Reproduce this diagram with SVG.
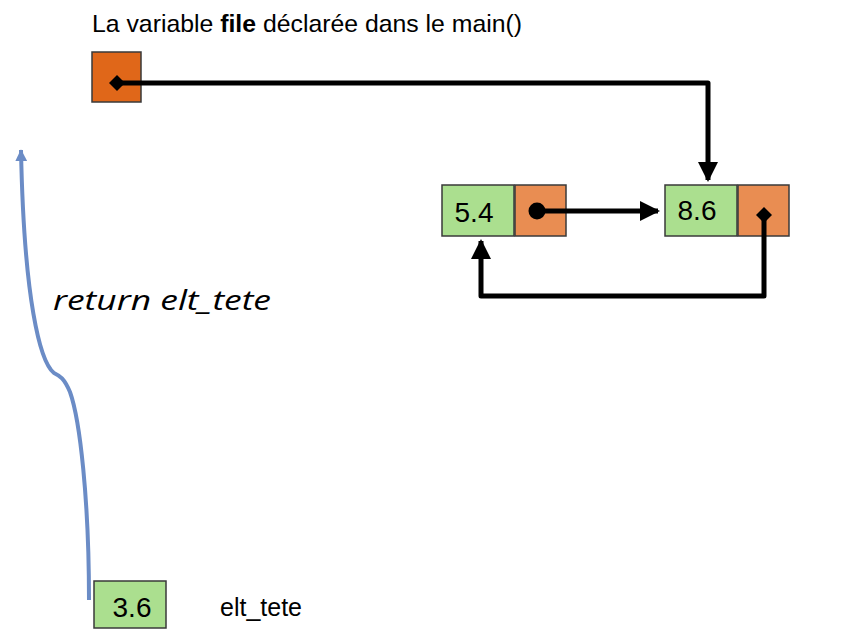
<svg xmlns="http://www.w3.org/2000/svg" width="868" height="643" viewBox="0 0 868 643">
<style>
.cell{stroke:#3a3a3a;stroke-width:1.5}
.g{fill:#abdf8f}
.o{fill:#e98d52}
.od{fill:#e06719}
.lbl{font-family:"Liberation Sans",Arial,sans-serif;fill:#000}
.num{font-size:28px;text-anchor:middle}
.ptr{fill:none;stroke:#000;stroke-width:5;stroke-linejoin:round}
</style>
<defs>
<marker id="ah" markerWidth="4" markerHeight="4" refX="3.6" refY="2" orient="auto" markerUnits="strokeWidth" viewBox="0 0 4 4">
<path d="M0,0 L4,2 L0,4 z" fill="#000"/>
</marker>
<marker id="bh" markerWidth="3" markerHeight="3" refX="2.8" refY="1.5" orient="auto" markerUnits="strokeWidth" viewBox="0 0 3 3">
<path d="M0,0 L3,1.5 L0,3 z" fill="#6b8cc6"/>
</marker>
</defs>
<g id="title">
<text class="lbl" x="92" y="32" font-size="24.8">La variable <tspan font-weight="bold">file</tspan> déclarée dans le main()</text>
</g>
<g id="file">
<rect class="cell od" x="92" y="52" width="49" height="50"/>
</g>
<g id="node1">
<rect class="cell g" x="442" y="185" width="72" height="51"/>
<rect class="cell o" x="515" y="185" width="51" height="51"/>
<text class="lbl num" x="474" y="222">5.4</text>
</g>
<g id="node2">
<rect class="cell g" x="665" y="185" width="72" height="51"/>
<rect class="cell o" x="738" y="185" width="51" height="51"/>
<text class="lbl num" x="697" y="220">8.6</text>
</g>
<g id="node3">
<rect class="cell g" x="94" y="581" width="72" height="47"/>
<text class="lbl num" x="132" y="617">3.6</text>
<text class="lbl" x="220" y="616" font-size="25">elt_tete</text>
</g>
<g id="returnLabel">
<text x="53" y="310" font-family="'Open Sans','Noto Sans',sans-serif" font-style="italic" font-size="28" textLength="218" lengthAdjust="spacingAndGlyphs">return elt_tete</text>
</g>
<g id="connectors">
<path class="ptr" d="M117,83 H708 V180" marker-end="url(#ah)"/>
<path d="M109,83 L117,75 L125,83 L117,91 z" fill="#000"/>
<path class="ptr" d="M537,211 H658" marker-end="url(#ah)"/>
<circle cx="537" cy="211" r="8.5" fill="#000"/>
<path class="ptr" d="M764,215 V296 H481 V241" marker-end="url(#ah)"/>
<path d="M756,215 L764,207 L772,215 L764,223 z" fill="#000"/>
<path d="M89,600 C89,500 80,420 70,392 C64,378 60,376 54,373 C40,362 24,300 21,150" fill="none" stroke="#6b8cc6" stroke-width="4" marker-end="url(#bh)"/>
</g>
</svg>
